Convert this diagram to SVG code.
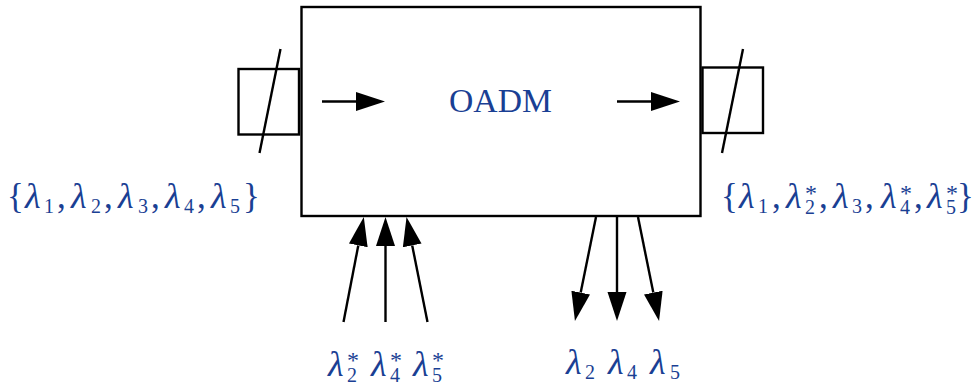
<svg xmlns="http://www.w3.org/2000/svg" width="972" height="385" viewBox="0 0 972 385">
<style>
.b{fill:#fff;stroke:#000;stroke-width:2.4}
.l{fill:none;stroke:#000;stroke-width:2.4}
.a{fill:none;stroke:#000;stroke-width:2.4;marker-end:url(#h)}
text{font-family:"Liberation Serif","DejaVu Serif",serif;fill:#1a3f94}
.t{font-size:35px}
.g{font-style:italic;font-size:36px}
.s{font-size:20px}
.r{font-size:24px}
.o{font-size:33.7px}
</style>
<defs>
<marker id="h" markerUnits="userSpaceOnUse" markerWidth="30" markerHeight="20" refX="0" refY="10" orient="auto"><polygon points="0,0.5 29,10 0,19.5" fill="#000"/></marker>
</defs>
<rect width="972" height="385" fill="#fff"/>
<g id="oadm"><rect class="b" x="301.5" y="7" width="399" height="209"/><text class="o" x="449" y="112">OADM</text></g>
<g id="left-filter"><rect class="b" x="238.5" y="69" width="60.5" height="65.5"/><line class="l" x1="280.5" y1="49" x2="259.5" y2="153"/></g>
<g id="right-filter"><rect class="b" x="702.5" y="67.5" width="60.5" height="65.5"/><line class="l" x1="743" y1="49" x2="722" y2="153"/></g>
<g id="connectors">
<line class="a" x1="322" y1="101.5" x2="356" y2="101.5"/>
<line class="a" x1="617" y1="101.5" x2="651" y2="101.5"/>
<line class="a" x1="343.5" y1="322" x2="358.3" y2="245.4"/>
<line class="a" x1="385.5" y1="322" x2="385.5" y2="246"/>
<line class="a" x1="427.5" y1="322" x2="412.2" y2="245.4"/>
<line class="a" x1="596" y1="217" x2="580.7" y2="292.6"/>
<line class="a" x1="617" y1="217" x2="617" y2="292"/>
<line class="a" x1="638" y1="217" x2="653.3" y2="292.6"/>
</g>
<g id="label-in"><text class="t" y="208"><tspan x="7">{</tspan><tspan class="g" x="25">λ</tspan><tspan class="s" x="44" y="213">1</tspan><tspan x="57" y="208">,</tspan><tspan class="g" x="71">λ</tspan><tspan class="s" x="91" y="213">2</tspan><tspan x="104" y="208">,</tspan><tspan class="g" x="118">λ</tspan><tspan class="s" x="138" y="213">3</tspan><tspan x="151" y="208">,</tspan><tspan class="g" x="165">λ</tspan><tspan class="s" x="184" y="213">4</tspan><tspan x="197" y="208">,</tspan><tspan class="g" x="211">λ</tspan><tspan class="s" x="230" y="213">5</tspan><tspan x="243" y="208">}</tspan></text></g>
<g id="label-out"><text class="t" y="208"><tspan x="721">{</tspan><tspan class="g" x="739">λ</tspan><tspan class="s" x="758" y="213">1</tspan><tspan x="772" y="208">,</tspan><tspan class="g" x="786">λ</tspan><tspan class="r" x="805" y="201">*</tspan><tspan class="s" x="805" y="214">2</tspan><tspan x="819" y="208">,</tspan><tspan class="g" x="833">λ</tspan><tspan class="s" x="852" y="213">3</tspan><tspan x="865" y="208">,</tspan><tspan class="g" x="881">λ</tspan><tspan class="r" x="900" y="201">*</tspan><tspan class="s" x="900" y="214">4</tspan><tspan x="914" y="208">,</tspan><tspan class="g" x="927">λ</tspan><tspan class="r" x="946" y="201">*</tspan><tspan class="s" x="946" y="214">5</tspan><tspan x="957" y="208">}</tspan></text></g>
<g id="label-add"><text class="t" y="376"><tspan class="g" x="328">λ</tspan><tspan class="r" x="347" y="368">*</tspan><tspan class="s" x="347" y="382">2</tspan><tspan class="g" x="371" y="376">λ</tspan><tspan class="r" x="390" y="368">*</tspan><tspan class="s" x="390" y="382">4</tspan><tspan class="g" x="413" y="376">λ</tspan><tspan class="r" x="432" y="368">*</tspan><tspan class="s" x="432" y="382">5</tspan></text></g>
<g id="label-drop"><text class="t" y="374"><tspan class="g" x="566">λ</tspan><tspan class="s" x="585" y="379">2</tspan><tspan class="g" x="608" y="374">λ</tspan><tspan class="s" x="627" y="379">4</tspan><tspan class="g" x="650" y="374">λ</tspan><tspan class="s" x="670" y="379">5</tspan></text></g>
</svg>
